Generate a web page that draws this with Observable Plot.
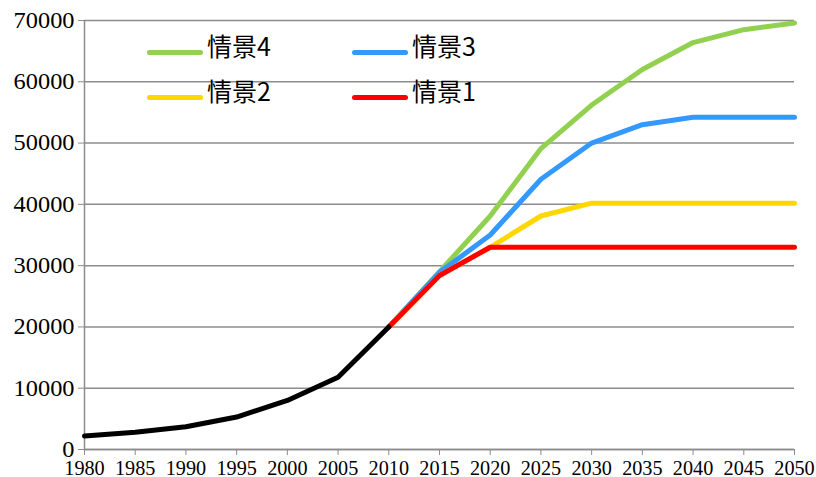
<!DOCTYPE html>
<html>
<head>
<meta charset="utf-8">
<script src="https://cdn.jsdelivr.net/npm/d3@7"></script>
<script src="https://cdn.jsdelivr.net/npm/@observablehq/plot@0.6"></script>
<style>
  html, body { margin: 0; padding: 0; background: #fff; }
  #wrap { position: relative; width: 816px; height: 477px; overflow: hidden; }
  .leg { position: absolute; font-family: "Noto Sans CJK SC", "Noto Sans", sans-serif; font-size: 25px; color: #000; line-height: 1; white-space: nowrap; }
  .leg .sw { position: absolute; height: 5px; border-radius: 3px; }
  .leg .lab { position: absolute; }
</style>
</head>
<body>
<div id="wrap"></div>
<script>
// Historical data (black line)
const histYears = [1980, 1985, 1990, 1995, 2000, 2005, 2010];
const histValues = [2200, 2800, 3700, 5300, 8000, 11800, 20000];

// Scenario data
const scenYears = [2010, 2015, 2020, 2025, 2030, 2035, 2040, 2045, 2050];
const scenario1 = [20000, 28400, 33000, 33000, 33000, 33000, 33000, 33000, 33000];
const scenario2 = [20000, 28400, 33000, 38100, 40200, 40200, 40200, 40200, 40200];
const scenario3 = [20000, 28900, 35000, 44100, 50000, 53000, 54200, 54200, 54200];
const scenario4 = [20000, 29000, 38100, 49100, 56200, 62000, 66400, 68500, 69600];

const seriesNames = ["情景4", "情景3", "情景2", "情景1"];
const seriesColors = ["#92D050", "#3399FF", "#FFD700", "#FF0000"];
const seriesValues = [scenario4, scenario3, scenario2, scenario1];

const xTicks = [1980, 1985, 1990, 1995, 2000, 2005, 2010, 2015, 2020, 2025, 2030, 2035, 2040, 2045, 2050];
const yTicks = [0, 10000, 20000, 30000, 40000, 50000, 60000, 70000];

const hist = histYears.map((y, i) => ({year: y, value: histValues[i]}));
const scen = seriesNames.flatMap((name, k) =>
  scenYears.map((y, i) => ({name, year: y, value: seriesValues[k][i]})));

const gray = "#8c8c8c";
const serif = "Liberation Serif";
const lineMarks = seriesNames.map((name, k) =>
  Plot.line(scen.filter(d => d.name === name), {
    x: "year", y: "value", stroke: seriesColors[k], strokeWidth: 5,
    strokeLinecap: "round", strokeLinejoin: "round"
  }));

const chart = Plot.plot({
  width: 816,
  height: 477,
  marginLeft: 84,
  marginRight: 22,
  marginTop: 20,
  marginBottom: 28,
  x: {domain: [1980, 2050]},
  y: {domain: [0, 70000]},
  style: {background: "#fff", overflow: "visible", fontFamily: serif},
  marks: [
    Plot.gridY(yTicks, {stroke: gray, strokeOpacity: 1, strokeWidth: 1.5}),
    Plot.ruleX([1980], {stroke: gray, strokeWidth: 1.5}),
    Plot.ruleY([0], {stroke: gray, strokeWidth: 1.5}),
    Plot.axisY(yTicks, {
      tickSize: 6, tickPadding: 4, stroke: gray, fill: "#000",
      tickFormat: d => String(d), label: null, fontSize: 23, fontFamily: serif
    }),
    Plot.axisX(xTicks, {
      tickSize: 6, tickPadding: 4, stroke: gray, fill: "#000",
      tickFormat: d => String(d), label: null, fontSize: 22, fontFamily: serif
    }),
    ...lineMarks,
    Plot.line(hist, {x: "year", y: "value", stroke: "#000", strokeWidth: 5,
      strokeLinecap: "round", strokeLinejoin: "round"})
  ]
});

// serif tick labels with proportions matching the reference
d3.select(chart).selectAll("text").each(function() {
  this.setAttribute("font-family", serif);
  this.style.fontFamily = serif;
  const lab = (this.parentNode && this.parentNode.getAttribute("aria-label")) || "";
  const t = this.getAttribute("transform") || "";
  if (lab.startsWith("x-axis")) this.setAttribute("transform", t + " scale(0.92,1)");
  else if (lab.startsWith("y-axis")) this.setAttribute("transform", t + " scale(1.06,1)");
});

const wrap = document.getElementById("wrap");
wrap.appendChild(chart);

// Legend overlay (HTML)
const legendPos = [
  {left: 147, top: 52}, {left: 352, top: 52},
  {left: 147, top: 97}, {left: 352, top: 97}
];
const legendOrder = ["情景4", "情景3", "情景2", "情景1"];
legendOrder.forEach((name, i) => {
  const k = seriesNames.indexOf(name);
  const p = legendPos[i];
  const item = document.createElement("div");
  item.className = "leg";
  item.style.left = p.left + "px";
  item.style.top = p.top + "px";
  const sw = document.createElement("div");
  sw.className = "sw";
  sw.style.left = "0px"; sw.style.top = "-2.5px"; sw.style.width = "56px";
  sw.style.background = seriesColors[k];
  const lab = document.createElement("div");
  lab.className = "lab";
  lab.style.left = "60px"; lab.style.top = "-19px";
  lab.textContent = name;
  item.appendChild(sw); item.appendChild(lab);
  wrap.appendChild(item);
});
</script>
</body>
</html>
